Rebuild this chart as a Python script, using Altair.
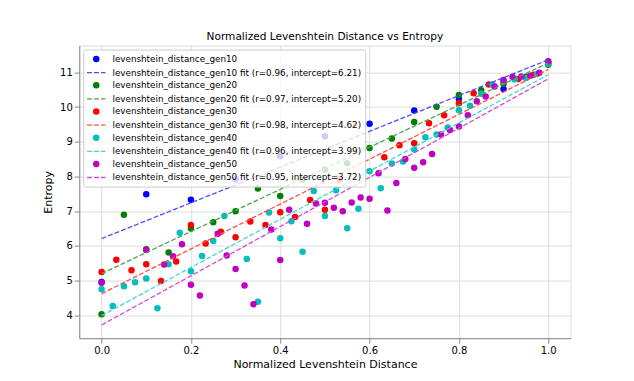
import altair as alt
import pandas as pd

TITLE = "Normalized Levenshtein Distance vs Entropy"
X_TITLE = "Normalized Levenshtein Distance"
Y_TITLE = "Entropy"

series_names = [
    "levenshtein_distance_gen10",
    "levenshtein_distance_gen20",
    "levenshtein_distance_gen30",
    "levenshtein_distance_gen40",
    "levenshtein_distance_gen50",
]
point_colors = ["#0000ff", "#008000", "#ff0000", "#00bfbf", "#bf00bf"]
line_colors = ["#4d4dff", "#4da64d", "#ff4d4d", "#4dd2d2", "#d24dd2"]

fit_r = [0.96, 0.97, 0.98, 0.96, 0.95]
fit_intercept = [6.21, 5.20, 4.62, 3.99, 3.72]
fit_slope = [5.15, 6.07, 6.46, 6.94, 7.09]

gen10_x = [0.0, 0.1, 0.2, 0.3, 0.4, 0.5, 0.6, 0.7, 0.8, 0.9, 1.0]
gen10_y = [4.96, 7.49, 7.33, 7.91, 8.58, 9.16, 9.52, 9.90, 10.24, 10.52, 11.30]

gen20_x = [0.0, 0.05, 0.1, 0.15, 0.2, 0.25, 0.3, 0.35, 0.4, 0.45, 0.5,
           0.55, 0.6, 0.65, 0.7, 0.75, 0.8, 0.85, 0.9, 0.95, 1.0]
gen20_y = [4.03, 6.90, 5.90, 5.81, 6.50, 6.68, 7.00, 7.65, 7.44, 7.91, 8.20,
           8.38, 8.82, 9.09, 9.57, 10.01, 10.35, 10.48, 10.67, 10.87, 11.22]

gen30_x = [0.0, 0.033, 0.067, 0.1, 0.133, 0.167, 0.2, 0.233, 0.267, 0.3,
           0.333, 0.367, 0.4, 0.433, 0.467, 0.5, 0.533, 0.633, 0.667, 0.7,
           0.733, 0.767, 0.8, 0.833, 0.867, 0.9, 0.933, 0.967, 1.0]
gen30_y = [5.25, 5.60, 5.30, 5.47, 4.99, 5.55, 6.60, 6.07, 6.41, 6.25,
           6.70, 6.60, 6.97, 6.83, 7.32, 7.04, 7.91, 8.55, 8.90, 8.96,
           9.53, 9.76, 10.11, 10.40, 10.65, 10.72, 10.81, 10.93, 11.25]

gen40_x = [0.0, 0.025, 0.05, 0.075, 0.1, 0.125, 0.15, 0.175, 0.2, 0.225,
           0.25, 0.275, 0.325, 0.35, 0.375, 0.4, 0.425, 0.45, 0.475, 0.5,
           0.525, 0.55, 0.575, 0.6, 0.625, 0.65, 0.675, 0.7, 0.725, 0.75,
           0.775, 0.8, 0.825, 0.85, 0.875, 0.9, 0.925, 0.95, 0.975, 1.0]
gen40_y = [4.75, 4.27, 4.84, 4.95, 5.06, 4.20, 5.47, 6.38, 5.27, 5.71,
           6.14, 6.86, 5.62, 4.39, 6.96, 6.22, 6.71, 5.83, 7.58, 6.86,
           7.60, 6.51, 7.07, 8.15, 7.66, 8.37, 8.43, 8.78, 9.13, 9.21,
           9.41, 9.91, 10.04, 10.38, 10.65, 10.74, 10.80, 10.84, 10.95, 11.25]

gen50_x = [0.0, 0.1, 0.14, 0.16, 0.18, 0.2, 0.22, 0.26, 0.28, 0.3,
           0.32, 0.34, 0.38, 0.4, 0.42, 0.46, 0.48, 0.5, 0.52, 0.54,
           0.56, 0.58, 0.6, 0.62, 0.64, 0.66, 0.68, 0.7, 0.72, 0.74,
           0.76, 0.78, 0.8, 0.82, 0.84, 0.86, 0.88, 0.9, 0.92, 0.94,
           0.96, 0.98, 1.0]
gen50_y = [4.94, 5.88, 5.46, 5.70, 6.05, 4.88, 4.57, 6.35, 5.72, 5.33,
           4.86, 4.32, 6.47, 5.59, 7.04, 6.64, 7.22, 7.24, 7.10, 7.00,
           7.25, 7.39, 7.36, 8.09, 7.02, 7.81, 8.50, 8.25, 8.41, 8.65,
           9.21, 9.34, 9.44, 9.76, 10.17, 10.30, 10.59, 10.78, 10.87, 10.88,
           10.90, 10.99, 11.32]

x_ticks = [0.0, 0.2, 0.4, 0.6, 0.8, 1.0]
y_ticks = [4, 5, 6, 7, 8, 9, 10, 11]
x_domain = [-0.05, 1.05]
y_domain = [3.34, 11.77]
fit_x_range = [0.0, 1.0]

all_x = [gen10_x, gen20_x, gen30_x, gen40_x, gen50_x]
all_y = [gen10_y, gen20_y, gen30_y, gen40_y, gen50_y]

fit_labels = [
    f"{n} fit (r={r:.2f}, intercept={b:.2f})"
    for n, r, b in zip(series_names, fit_r, fit_intercept)
]

rows = []
for name, xs, ys in zip(series_names, all_x, all_y):
    for xv, yv in zip(xs, ys):
        rows.append({"x": xv, "y": yv, "label": name})
points = pd.DataFrame(rows)

lrows = []
for lab, b, m, col in zip(fit_labels, fit_intercept, fit_slope, line_colors):
    for xv in fit_x_range:
        lrows.append({"x": xv, "y": b + m * xv, "label": lab, "color": col})
lines = pd.DataFrame(lrows)

CIRCLE = "M0.52,0A0.52,0.52,0,1,1,-0.52,0A0.52,0.52,0,1,1,0.52,0Z"
DASH = "M-1.84,0H-0.86M-0.44,0H0.54M0.96,0H1.84"
legend_domain, legend_colors, legend_shapes = [], [], []
for n, fl, pc, lc in zip(series_names, fit_labels, point_colors, line_colors):
    legend_domain += [n, fl]
    legend_colors += [pc, lc]
    legend_shapes += [CIRCLE, DASH]

leg = alt.Legend(
    title=None, orient="top-left", offset=4, padding=3.5,
    fillColor="rgba(255,255,255,0.8)", strokeColor="#cccccc", cornerRadius=2,
    labelFont="DejaVu Sans", labelFontSize=8.8, labelColor="black", labelLimit=400,
    symbolSize=100, symbolStrokeWidth=1.3, symbolOffset=3.5, labelOffset=10.2,
    rowPadding=1.6, symbolOpacity=1,
)

xs = alt.Scale(domain=x_domain, nice=False, zero=False)
ys = alt.Scale(domain=y_domain, nice=False, zero=False)
x_axis = alt.Axis(values=x_ticks, format=".1f", title=X_TITLE, titlePadding=3,
                  titleFontWeight="normal")
y_axis = alt.Axis(values=y_ticks, format="d", title=Y_TITLE, titlePadding=6,
                  titleFontWeight="normal")

pts = alt.Chart(points).mark_point(filled=True, size=100, opacity=1, strokeWidth=1.3).encode(
    x=alt.X("x:Q", scale=xs, axis=x_axis),
    y=alt.Y("y:Q", scale=ys, axis=y_axis),
    fill=alt.Fill("label:N", scale=alt.Scale(domain=legend_domain, range=legend_colors), legend=leg),
    stroke=alt.Stroke("label:N", scale=alt.Scale(domain=legend_domain, range=legend_colors), legend=leg),
    shape=alt.Shape("label:N", scale=alt.Scale(domain=legend_domain, range=legend_shapes), legend=leg),
)

fits = alt.Chart(lines).mark_line(strokeWidth=1.3, strokeDash=[4.9, 2.1]).encode(
    x=alt.X("x:Q", scale=xs),
    y=alt.Y("y:Q", scale=ys),
    stroke=alt.Stroke("color:N", scale=None),
    detail="label:N",
)

chart = alt.layer(pts, fits).properties(
    width=491.3,
    height=292.6,
    title=alt.TitleParams(TITLE, font="DejaVu Sans", fontSize=10.6, fontWeight="normal",
                          color="black", offset=3),
    autosize=alt.AutoSizeParams(type="none"),
    padding={"left": 71.25, "top": 37.6, "right": 50, "bottom": 34},
).configure_view(
    stroke="black", strokeWidth=0.8
).configure_axis(
    grid=False, domain=False,
    labelFont="DejaVu Sans", labelFontSize=8.8, labelColor="black",
    titleFont="DejaVu Sans", titleFontSize=8.8, titleFontWeight="normal", titleColor="black",
    tickColor="black", tickSize=3, tickWidth=0.8, labelPadding=3,
).configure(font="DejaVu Sans")

chart.save("out.html", embed_options={"renderer": "svg", "actions": False})
